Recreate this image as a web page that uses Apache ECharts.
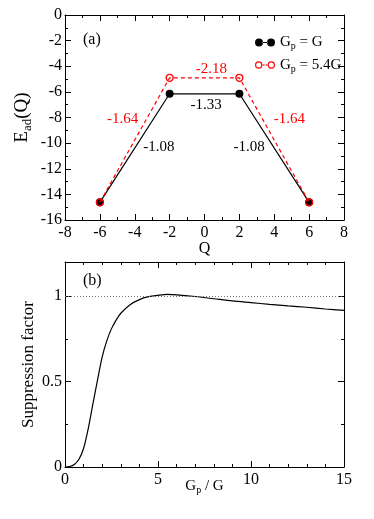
<!DOCTYPE html>
<html>
<head>
<meta charset="utf-8">
<script src="https://cdn.jsdelivr.net/npm/echarts@6/dist/echarts.min.js"></script>
<style>
html,body{margin:0;padding:0;background:#fff;}
#c{width:374px;height:519px;}
</style>
</head>
<body>
<div id="c"></div>
<script>
// ---- data (panel a) ----
const qValues = [-6, -2, 2, 6];
const eadG = [-14.62, -6.15, -6.15, -14.62];
const eadG54 = [-14.62, -4.9, -4.9, -14.62];
const slopeTexts = ['-2.18', '-1.33', '-1.64', '-1.64', '-1.08', '-1.08'];
const slopeAnchorQ = [0.4, 0.1, -4.7, 4.87, -2.62, 2.56];
const slopeAnchorE = [-4.24, -7.03, -8.12, -8.12, -10.28, -10.28];
const slopeIsRed = [true, false, true, true, false, false];
// ---- data (panel b) ----
const gRatio = [0, 0.25, 0.5, 0.75, 1, 1.25, 1.5, 1.75, 2, 2.25, 2.5, 2.75, 3, 3.5, 4, 4.5, 5, 5.5, 6, 7, 8, 9, 10, 11, 12, 13, 14, 15];
const suppression = [0, 0.003, 0.015, 0.045, 0.11, 0.225, 0.37, 0.51, 0.645, 0.74, 0.81, 0.86, 0.9, 0.95, 0.98, 0.997, 1.005, 1.01, 1.008, 0.998, 0.985, 0.972, 0.962, 0.952, 0.943, 0.935, 0.925, 0.917];
const xTicksA = [-8, 8, 2];
const yTicksA = [-16, 0, 2];
const xTicksB = [0, 15, 5];
const yTicksB = [0, 1.2, 0.5];

const FONT = 'Liberation Serif, serif';
const RED = '#ff0000';
const chart = echarts.init(document.getElementById('c'), null, {renderer: 'canvas'});

function axis(opt) {
  const base = {
    gridIndex: opt.grid,
    type: 'value',
    position: opt.position,
    min: opt.range[0], max: opt.range[1], interval: opt.range[2],
    axisLine: {show: true, onZero: false, lineStyle: {color: '#000', width: 1}},
    axisTick: {show: true, inside: true, length: 6, lineStyle: {color: '#000', width: 1}},
    minorTick: {show: true, splitNumber: opt.minor, length: 3, lineStyle: {color: '#000', width: 1}},
    splitLine: {show: false},
    axisLabel: {show: !!opt.labels, color: '#000', fontFamily: FONT, fontSize: 16, margin: opt.margin || 4,
      showMaxLabel: opt.showMax !== false, formatter: opt.fmt},
  };
  if (opt.name) {
    base.name = opt.name;
    base.nameLocation = 'middle';
    base.nameGap = opt.nameGap;
    base.nameMoveOverlap = false;
    base.nameTextStyle = {color: '#000', fontFamily: FONT, fontSize: opt.nameSize,
      rich: {sub: {fontSize: Math.round(opt.nameSize * 0.68), fontFamily: FONT, color: '#000', padding: [Math.round(opt.nameSize * 0.55), 0, 0, 0]}}};
  }
  return base;
}

const legendRich = {sub: {fontSize: 10, fontFamily: FONT, color: '#000', padding: [8, 0, 0, 0]}};

chart.setOption({
  animation: false,
  backgroundColor: '#fff',
  grid: [
    {left: 65, top: 15, width: 279, height: 205},
    {left: 65, top: 262, width: 279, height: 205}
  ],
  xAxis: [
    axis({grid: 0, position: 'bottom', range: xTicksA, minor: 2, labels: true, margin: 5, name: 'Q', nameGap: 21, nameSize: 16}),
    axis({grid: 0, position: 'top', range: xTicksA, minor: 2}),
    axis({grid: 1, position: 'bottom', range: xTicksB, minor: 5, labels: true, margin: 5, name: 'G{sub|p} / G', nameGap: 10, nameSize: 15}),
    axis({grid: 1, position: 'top', range: xTicksB, minor: 5})
  ],
  yAxis: [
    axis({grid: 0, position: 'left', range: yTicksA, minor: 2, labels: true, margin: 3, name: 'E{sub|ad}(Q)', nameGap: 31, nameSize: 19}),
    axis({grid: 0, position: 'right', range: yTicksA, minor: 2}),
    axis({grid: 1, position: 'left', range: yTicksB, minor: 2, labels: true, margin: 3, showMax: false,
      name: 'Suppression factor', nameGap: 28, nameSize: 17, fmt: v => String(+v.toFixed(2))}),
    axis({grid: 1, position: 'right', range: yTicksB, minor: 2})
  ],
  legend: {
    left: 250, top: 30, orient: 'vertical', itemGap: 6, itemWidth: 20, itemHeight: 8,
    textStyle: {fontFamily: FONT, fontSize: 15, color: '#000', rich: legendRich},
    formatter: n => n === 'Gp = G' ? 'G{sub|p} = G' : 'G{sub|p} = 5.4G',
    data: [
      {name: 'Gp = G', icon: 'path://M0,4a4,4 0 1,0 8,0a4,4 0 1,0 -8,0zM12,4a4,4 0 1,0 8,0a4,4 0 1,0 -8,0zM7.5,3.5h5v1h-5z',
       itemStyle: {color: '#000', borderWidth: 0}},
      {name: 'Gp = 5.4G', icon: 'path://M0.5,4a3.5,3.5 0 1,0 7,0a3.5,3.5 0 1,0 -7,0zM1.6,4a2.4,2.4 0 1,1 4.8,0a2.4,2.4 0 1,1 -4.8,0zM12.5,4a3.5,3.5 0 1,0 7,0a3.5,3.5 0 1,0 -7,0zM13.6,4a2.4,2.4 0 1,1 4.8,0a2.4,2.4 0 1,1 -4.8,0zM7.6,3.5h2.1v1h-2.1zM10.4,3.5h2v1h-2z',
       itemStyle: {color: RED, borderWidth: 0}}
    ]
  },
  series: [
    {name: 'Gp = G', type: 'line', xAxisIndex: 0, yAxisIndex: 0,
     data: qValues.map((q, i) => [q, eadG[i]]),
     symbol: 'circle', symbolSize: 8, itemStyle: {color: '#000'},
     lineStyle: {color: '#000', width: 1.2}, z: 2},
    {name: 'Gp = 5.4G', type: 'line', xAxisIndex: 0, yAxisIndex: 0,
     data: qValues.map((q, i) => [q, eadG54[i]]),
     symbol: 'circle', symbolSize: 7, itemStyle: {color: 'rgba(255,255,255,0)', borderColor: RED, borderWidth: 1.3},
     lineStyle: {color: RED, width: 1.2, type: [4, 3]}, z: 3},
    {name: 'suppression', type: 'line', xAxisIndex: 2, yAxisIndex: 2,
     data: gRatio.map((g, i) => [g, suppression[i]]),
     smooth: 0.3, symbol: 'none', lineStyle: {color: '#000', width: 1.2},
     markLine: {silent: true, symbol: 'none', label: {show: false},
       lineStyle: {color: '#777', width: 1, type: [1, 2]}, data: [{yAxis: 1}]}}
  ]
});

const graphics = [
  {type: 'text', left: 83, top: 32, style: {text: '(a)', font: '16px ' + FONT, fill: '#000'}},
  {type: 'text', left: 83, top: 273, style: {text: '(b)', font: '16px ' + FONT, fill: '#000'}}
];
slopeTexts.forEach((t, i) => {
  const p = chart.convertToPixel({gridIndex: 0}, [slopeAnchorQ[i], slopeAnchorE[i]]);
  graphics.push({type: 'text', x: p[0], y: p[1],
    style: {text: t, font: '15px ' + FONT, fill: slopeIsRed[i] ? RED : '#000', align: 'center', verticalAlign: 'middle'}});
});
chart.setOption({graphic: graphics});
</script>
</body>
</html>
